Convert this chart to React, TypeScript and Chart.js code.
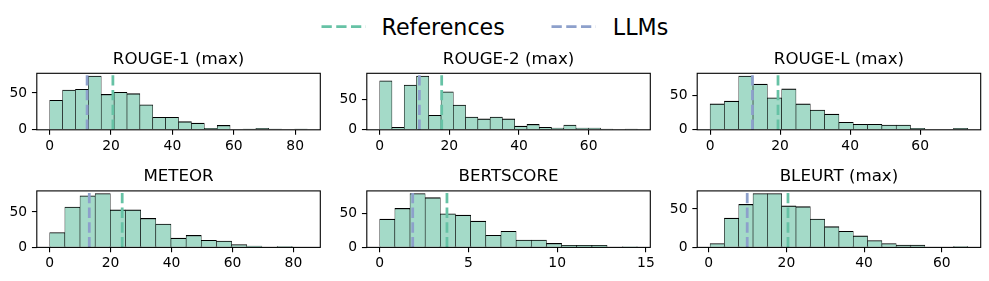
import React, { useEffect, useRef } from 'react';
import { Chart, registerables } from 'chart.js';

Chart.register(...registerables);

// ---------------- data ----------------
const titles = ['ROUGE-1 (max)', 'ROUGE-2 (max)', 'ROUGE-L (max)', 'METEOR', 'BERTSCORE', 'BLEURT (max)'];

const rouge1Counts = [40, 54, 55, 73, 48, 51, 49, 34, 17, 17, 11, 9, 2, 6, 0, 1, 2, 1, 0, 1];
const rouge2Counts = [81, 4, 74, 89, 24, 63, 41, 21, 18, 21, 18, 6, 9, 4, 3, 8, 3, 3, 1, 0, 1];
const rougeLCounts = [38, 42, 79, 67, 47, 60, 38, 29, 23, 11, 8, 8, 7, 7, 2, 0, 0, 2];
const meteorCounts = [21, 57, 73, 76, 53, 53, 41, 33, 13, 17, 10, 9, 4, 2, 0, 1, 0];
const bertscoreCounts = [42, 58, 80, 74, 50, 48, 39, 18, 24, 11, 11, 6, 3, 3, 3, 0, 1];
const bleurtCounts = [5, 38, 56, 70, 70, 54, 53, 37, 27, 21, 15, 9, 5, 3, 3, 0, 0, 1];

// histogram bin range [first edge, last edge] per metric
const rouge1BinRange = [0, 84];
const rouge2BinRange = [0, 74];
const rougeLBinRange = [0, 73.6];
const meteorBinRange = [0, 84.6];
const bertscoreBinRange = [0, 14.52];
const bleurtBinRange = [0.34, 66.7];

const referenceMeans = [20.6, 17.8, 19.4, 23.8, 3.79, 20.4];
const llmMeans = [12.2, 11.4, 12.1, 13.0, 1.86, 9.9];

const rouge1XTicks = [0, 20, 40, 60, 80];
const rouge2XTicks = [0, 20, 40, 60];
const rougeLXTicks = [0, 20, 40, 60];
const meteorXTicks = [0, 20, 40, 60, 80];
const bertscoreXTicks = [0, 5, 10, 15];
const bleurtXTicks = [0, 20, 40, 60];
const yTicks = [0, 50];

const legendLabels = ['References', 'LLMs'];

const countsList = [rouge1Counts, rouge2Counts, rougeLCounts, meteorCounts, bertscoreCounts, bleurtCounts];
const binRanges = [rouge1BinRange, rouge2BinRange, rougeLBinRange, meteorBinRange, bertscoreBinRange, bleurtBinRange];
const xTicksList = [rouge1XTicks, rouge2XTicks, rougeLXTicks, meteorXTicks, bertscoreXTicks, bleurtXTicks];

// ---------------- style / layout ----------------
const FONT = 'DejaVu Sans';
const REF_COLOR = '#66c2a5';
const LLM_COLOR = '#8da0cb';
const BAR_FILL = 'rgb(164,218,200)';
const BOX_LEFTS = [36.8, 366.8, 697.2];
const BOX_TOPS = [73.3, 190.9];
const BOX_W = 283.5;
const BOX_H = 56.5;
const TITLE_LINE = 20; // 16.67 * 1.2
const TITLE_BLOCK = 24.1;
const TICK_LEN = 4.86;
const DASH = [10.3, 4.44];
const LINE_W = 2.78;

const framePlugin = {
  id: 'frame',
  afterDatasetsDraw(chart: any) {
    const { ctx, chartArea: a } = chart;
    ctx.save();
    ctx.strokeStyle = '#000';
    ctx.lineWidth = 1.1;
    ctx.strokeRect(a.left, a.top, a.right - a.left, a.bottom - a.top);
    ctx.restore();
  },
};

function Panel({ idx }: { idx: number }) {
  const ref = useRef<HTMLCanvasElement | null>(null);
  const col = idx % 3;
  const row = Math.floor(idx / 3);
  const boxLeft = BOX_LEFTS[col];
  const boxTop = BOX_TOPS[row];
  const cLeft = Math.floor(boxLeft) - 40;
  const blockTop = boxTop - TITLE_BLOCK;
  const cTop = Math.floor(blockTop);
  const cRight = Math.ceil(boxLeft + BOX_W) + 14;
  const cBottom = Math.ceil(boxTop + BOX_H) + 30;
  const w = cRight - cLeft;
  const h = cBottom - cTop;

  useEffect(() => {
    const counts = countsList[idx];
    const [lo, hi] = binRanges[idx];
    const bw = (hi - lo) / counts.length;
    const bars = counts.map((c, i) => ({ x: lo + (i + 0.5) * bw, y: c }));
    const span = hi - lo;
    const yMax = Math.max(...counts) * 1.05;
    const tickGrid = {
      display: true,
      drawOnChartArea: false,
      drawTicks: true,
      tickLength: TICK_LEN,
      color: '#000',
      lineWidth: 1.1,
      offset: false,
    };
    const chart = new Chart(ref.current as HTMLCanvasElement, {
      type: 'bar',
      data: {
        datasets: [
          {
            type: 'line',
            label: legendLabels[0],
            data: [
              { x: referenceMeans[idx], y: 0 },
              { x: referenceMeans[idx], y: yMax },
            ],
            borderColor: REF_COLOR,
            borderWidth: LINE_W,
            borderDash: DASH,
            pointRadius: 0,
            fill: false,
            order: 0,
          },
          {
            type: 'line',
            label: legendLabels[1],
            data: [
              { x: llmMeans[idx], y: 0 },
              { x: llmMeans[idx], y: yMax },
            ],
            borderColor: LLM_COLOR,
            borderWidth: LINE_W,
            borderDash: DASH,
            pointRadius: 0,
            fill: false,
            order: 0,
          },
          {
            type: 'bar',
            label: 'count',
            data: bars,
            backgroundColor: BAR_FILL,
            borderColor: '#000',
            borderWidth: { top: 1.1, left: 0.6, right: 0.6, bottom: 0 },
            borderSkipped: 'start',
            barPercentage: 1,
            categoryPercentage: 1,
            order: 1,
          },
        ] as any,
      },
      options: {
        animation: false,
        responsive: false,
        maintainAspectRatio: false,
        events: [],
        layout: {
          padding: { top: blockTop - cTop, right: cRight - (boxLeft + BOX_W), left: 0, bottom: 0 },
        },
        plugins: {
          legend: { display: false },
          tooltip: { enabled: false },
          title: {
            display: true,
            fullSize: false,
            text: titles[idx],
            color: '#000',
            font: { family: FONT, size: 16.67, weight: 'normal', lineHeight: 1.2 },
            padding: { top: 0, bottom: TITLE_BLOCK - TITLE_LINE },
          },
        },
        scales: {
          x: {
            type: 'linear',
            min: lo - 0.05 * span,
            max: hi + 0.05 * span,
            offset: false,
            grid: tickGrid,
            border: { display: false },
            ticks: {
              color: '#000',
              font: { family: FONT, size: 13.89 },
              padding: 3,
              autoSkip: false,
              maxRotation: 0,
              minRotation: 0,
              callback: (v: any) => String(v),
            },
            afterBuildTicks: (s: any) => {
              s.ticks = xTicksList[idx].map((v) => ({ value: v }));
            },
            afterFit: (s: any) => {
              s.height = cBottom - (boxTop + BOX_H);
            },
          },
          y: {
            type: 'linear',
            min: 0,
            max: yMax,
            grid: tickGrid,
            border: { display: false },
            ticks: {
              color: '#000',
              font: { family: FONT, size: 13.89 },
              padding: TICK_LEN,
              autoSkip: false,
              callback: (v: any) => String(v),
            },
            afterBuildTicks: (s: any) => {
              s.ticks = yTicks.map((v) => ({ value: v }));
            },
            afterFit: (s: any) => {
              s.width = boxLeft - cLeft;
            },
          },
        },
      } as any,
      plugins: [framePlugin],
    });
    return () => chart.destroy();
  }, [idx]);

  return (
    <canvas
      ref={ref}
      width={w}
      height={h}
      style={{ position: 'absolute', left: cLeft, top: cTop, width: w, height: h }}
    />
  );
}

function Legend() {
  return (
    <svg width={989} height={45} style={{ position: 'absolute', left: 0, top: 0 }}>
      <line x1={321.5} y1={26.7} x2={365.9} y2={26.7} stroke={REF_COLOR} strokeWidth={LINE_W} strokeDasharray={DASH.join(' ')} />
      <text x={381.5} y={35.3} fontFamily={FONT} fontSize={22.2} fill="#000">
        {legendLabels[0]}
      </text>
      <line x1={551.5} y1={26.7} x2={595.9} y2={26.7} stroke={LLM_COLOR} strokeWidth={LINE_W} strokeDasharray={DASH.join(' ')} />
      <text x={612.8} y={35.3} fontFamily={FONT} fontSize={22.2} fill="#000">
        {legendLabels[1]}
      </text>
    </svg>
  );
}

export default function App() {
  return (
    <div style={{ position: 'absolute', left: 0, top: 0, width: 989, height: 281, background: '#fff', overflow: 'hidden' }}>
      <Legend />
      {titles.map((_, i) => (
        <Panel key={i} idx={i} />
      ))}
    </div>
  );
}
